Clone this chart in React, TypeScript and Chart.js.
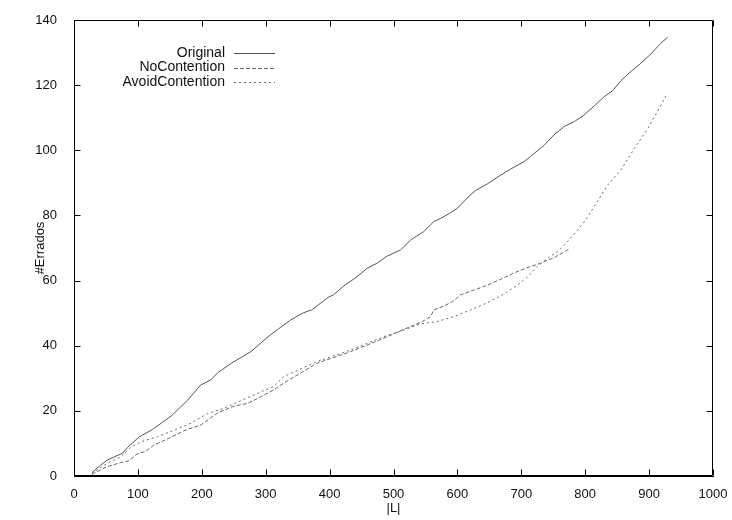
import React, { useEffect, useRef } from "react";
import { Chart, registerables } from "chart.js";

Chart.register(...registerables);

const xTicks = [0, 100, 200, 300, 400, 500, 600, 700, 800, 900, 1000];
const yTicks = [0, 20, 40, 60, 80, 100, 120, 140];

const seriesNames = ["Original", "NoContention", "AvoidContention"];

const originalX = [28, 42, 52, 76, 84, 102, 123, 152, 178, 198, 214, 225, 246, 277, 307, 339, 359, 372, 399, 406, 422, 443, 459, 474, 490, 511, 527, 547, 563, 574, 588, 600, 615, 628, 647, 668, 683, 704, 715, 736, 751, 767, 783, 798, 814, 830, 843, 856, 871, 887, 903, 918, 929];
const originalY = [1, 3.4, 4.9, 7, 8.8, 12, 14.3, 18.4, 23.3, 27.9, 29.5, 31.7, 34.6, 38.2, 43.3, 47.9, 50.1, 51, 55, 55.6, 58.3, 61.2, 63.8, 65.3, 67.5, 69.4, 72.5, 75, 78.1, 79.1, 80.7, 82.2, 85.3, 87.6, 89.7, 92.4, 94.2, 96.5, 98.2, 101.6, 104.7, 107.3, 108.8, 110.8, 113.6, 116.5, 118.3, 121.4, 124.1, 126.7, 129.6, 132.8, 134.7];

const noContX = [28, 31, 52, 73, 86, 99, 112, 125, 152, 172, 199, 225, 251, 272, 293, 312, 328, 380, 433, 485, 516, 542, 558, 563, 579, 592, 605, 626, 647, 668, 689, 710, 730, 751, 775];
const noContY = [0.5, 0.8, 2.9, 4.1, 4.7, 6.8, 7.5, 9.5, 11.9, 13.9, 15.7, 19.4, 21.5, 22.3, 24.4, 26.4, 28.5, 34.6, 38.2, 42.3, 45, 47.1, 48.9, 51, 52.2, 53.5, 55.6, 57.1, 58.6, 60.4, 62.4, 64, 65.3, 67, 69.7];

const avoidX = [28, 52, 73, 89, 105, 131, 157, 183, 209, 235, 261, 293, 312, 328, 380, 433, 485, 516, 542, 568, 594, 621, 647, 673, 694, 710, 725, 741, 757, 772, 788, 801, 814, 835, 856, 877, 898, 913, 928];
const avoidY = [0.8, 3.9, 5.9, 8.8, 10.5, 12.1, 14.1, 16.2, 19.2, 20.8, 23.1, 25.9, 27.4, 30.5, 35.1, 38.7, 42.8, 44.8, 46.7, 47.4, 48.9, 51, 53.2, 55.9, 58.6, 61.2, 64.3, 66.8, 68.9, 71.9, 75.5, 78.6, 82.7, 89.3, 94, 100.6, 106.7, 111.9, 117.3];

const FONT = "'Liberation Sans', Arial, Helvetica, sans-serif";

const pts = (xs: number[], ys: number[]) => xs.map((x, i) => ({ x, y: ys[i] }));

export default function App() {
  const ref = useRef<HTMLCanvasElement>(null);
  useEffect(() => {
    if (!ref.current) return;
    const dashes = [[], [4, 2], [2, 3]];
    const colors = ["#555555", "#6a6a6a", "#6a6a6a"];

    const framePlugin = {
      id: "frame",
      afterDatasetsDraw(chart: any) {
        const { ctx, chartArea: a, scales } = chart;
        const L = Math.round(a.left) + 0.5;
        const R = Math.round(a.right) - 0.5;
        const T = Math.round(a.top) + 0.5;
        const B = Math.round(a.bottom) - 0.5;
        ctx.save();
        ctx.setLineDash([]);
        ctx.strokeStyle = "#000000";
        ctx.lineWidth = 1;
        ctx.beginPath();
        ctx.moveTo(L, T);
        ctx.lineTo(R, T);
        ctx.lineTo(R, B);
        ctx.lineTo(L, B);
        ctx.closePath();
        const tl = 6;
        xTicks.forEach((v) => {
          const px = Math.round(scales.x.getPixelForValue(v)) + 0.5;
          ctx.moveTo(px, B);
          ctx.lineTo(px, B - tl);
          ctx.moveTo(px, T);
          ctx.lineTo(px, T + tl);
        });
        yTicks.forEach((v) => {
          const py = Math.round(scales.y.getPixelForValue(v)) + 0.5;
          ctx.moveTo(L, py);
          ctx.lineTo(L + tl, py);
          ctx.moveTo(R, py);
          ctx.lineTo(R - tl, py);
        });
        ctx.stroke();
        ctx.restore();

        // key
        ctx.save();
        ctx.font = `14px ${FONT}`;
        ctx.fillStyle = "#111";
        ctx.textAlign = "right";
        ctx.textBaseline = "middle";
        const textRight = a.left + 151;
        const lineStart = a.left + 160;
        const lineEnd = a.left + 201;
        seriesNames.forEach((name, i) => {
          const y = a.top + 33 + i * 14.5;
          ctx.fillText(name, textRight, y);
          ctx.beginPath();
          ctx.lineWidth = 1;
          ctx.strokeStyle = colors[i];
          ctx.setLineDash(dashes[i]);
          ctx.moveTo(lineStart, Math.round(y) + 0.5);
          ctx.lineTo(lineEnd, Math.round(y) + 0.5);
          ctx.stroke();
        });
        ctx.restore();
      },
    };

    const chart = new Chart(ref.current, {
      type: "line",
      data: {
        datasets: [
          { label: seriesNames[0], data: pts(originalX, originalY) },
          { label: seriesNames[1], data: pts(noContX, noContY) },
          { label: seriesNames[2], data: pts(avoidX, avoidY) },
        ].map((d, i) => ({
          ...d,
          borderColor: colors[i],
          borderWidth: 1,
          borderDash: dashes[i],
          pointRadius: 0,
          tension: 0,
          fill: false,
        })),
      },
      options: {
        animation: false,
        responsive: false,
        maintainAspectRatio: false,
        layout: { padding: { left: 0, top: 20, right: 19, bottom: 0 } },
        plugins: { legend: { display: false }, tooltip: { enabled: false } },
        scales: {
          x: {
            type: "linear",
            min: 0,
            max: 1000,
            afterFit: (s: any) => { s.height = 44; },
            afterBuildTicks: (s: any) => { s.ticks = xTicks.map((v) => ({ value: v })); },
            grid: { display: false },
            border: { display: true, color: "#000", width: 1 },
            ticks: { padding: 3, color: "#111", font: { family: FONT, size: 13 }, maxRotation: 0, autoSkip: false, callback: (v: any) => String(v) },
            title: { display: true, text: "|L|", color: "#111", font: { family: FONT, size: 13 }, padding: { top: 0, bottom: 4 } },
          },
          y: {
            type: "linear",
            min: 0,
            max: 140,
            afterFit: (s: any) => { s.width = 74; },
            afterBuildTicks: (s: any) => { s.ticks = yTicks.map((v) => ({ value: v })); },
            grid: { display: false },
            border: { display: true, color: "#000", width: 1 },
            ticks: { padding: 9, color: "#111", font: { family: FONT, size: 13 }, autoSkip: false, callback: (v: any) => String(v) },
            title: { display: true, text: "#Errados", color: "#111", font: { family: FONT, size: 13 }, padding: { top: 33, bottom: 0 } },
          },
        },
      },
      plugins: [framePlugin],
    });
    return () => chart.destroy();
  }, []);

  return (
    <div style={{ position: "fixed", left: 0, top: 0, width: 732, height: 520, background: "#fff" }}>
      <canvas ref={ref} width={732} height={520} style={{ width: 732, height: 520, display: "block" }} />
    </div>
  );
}
